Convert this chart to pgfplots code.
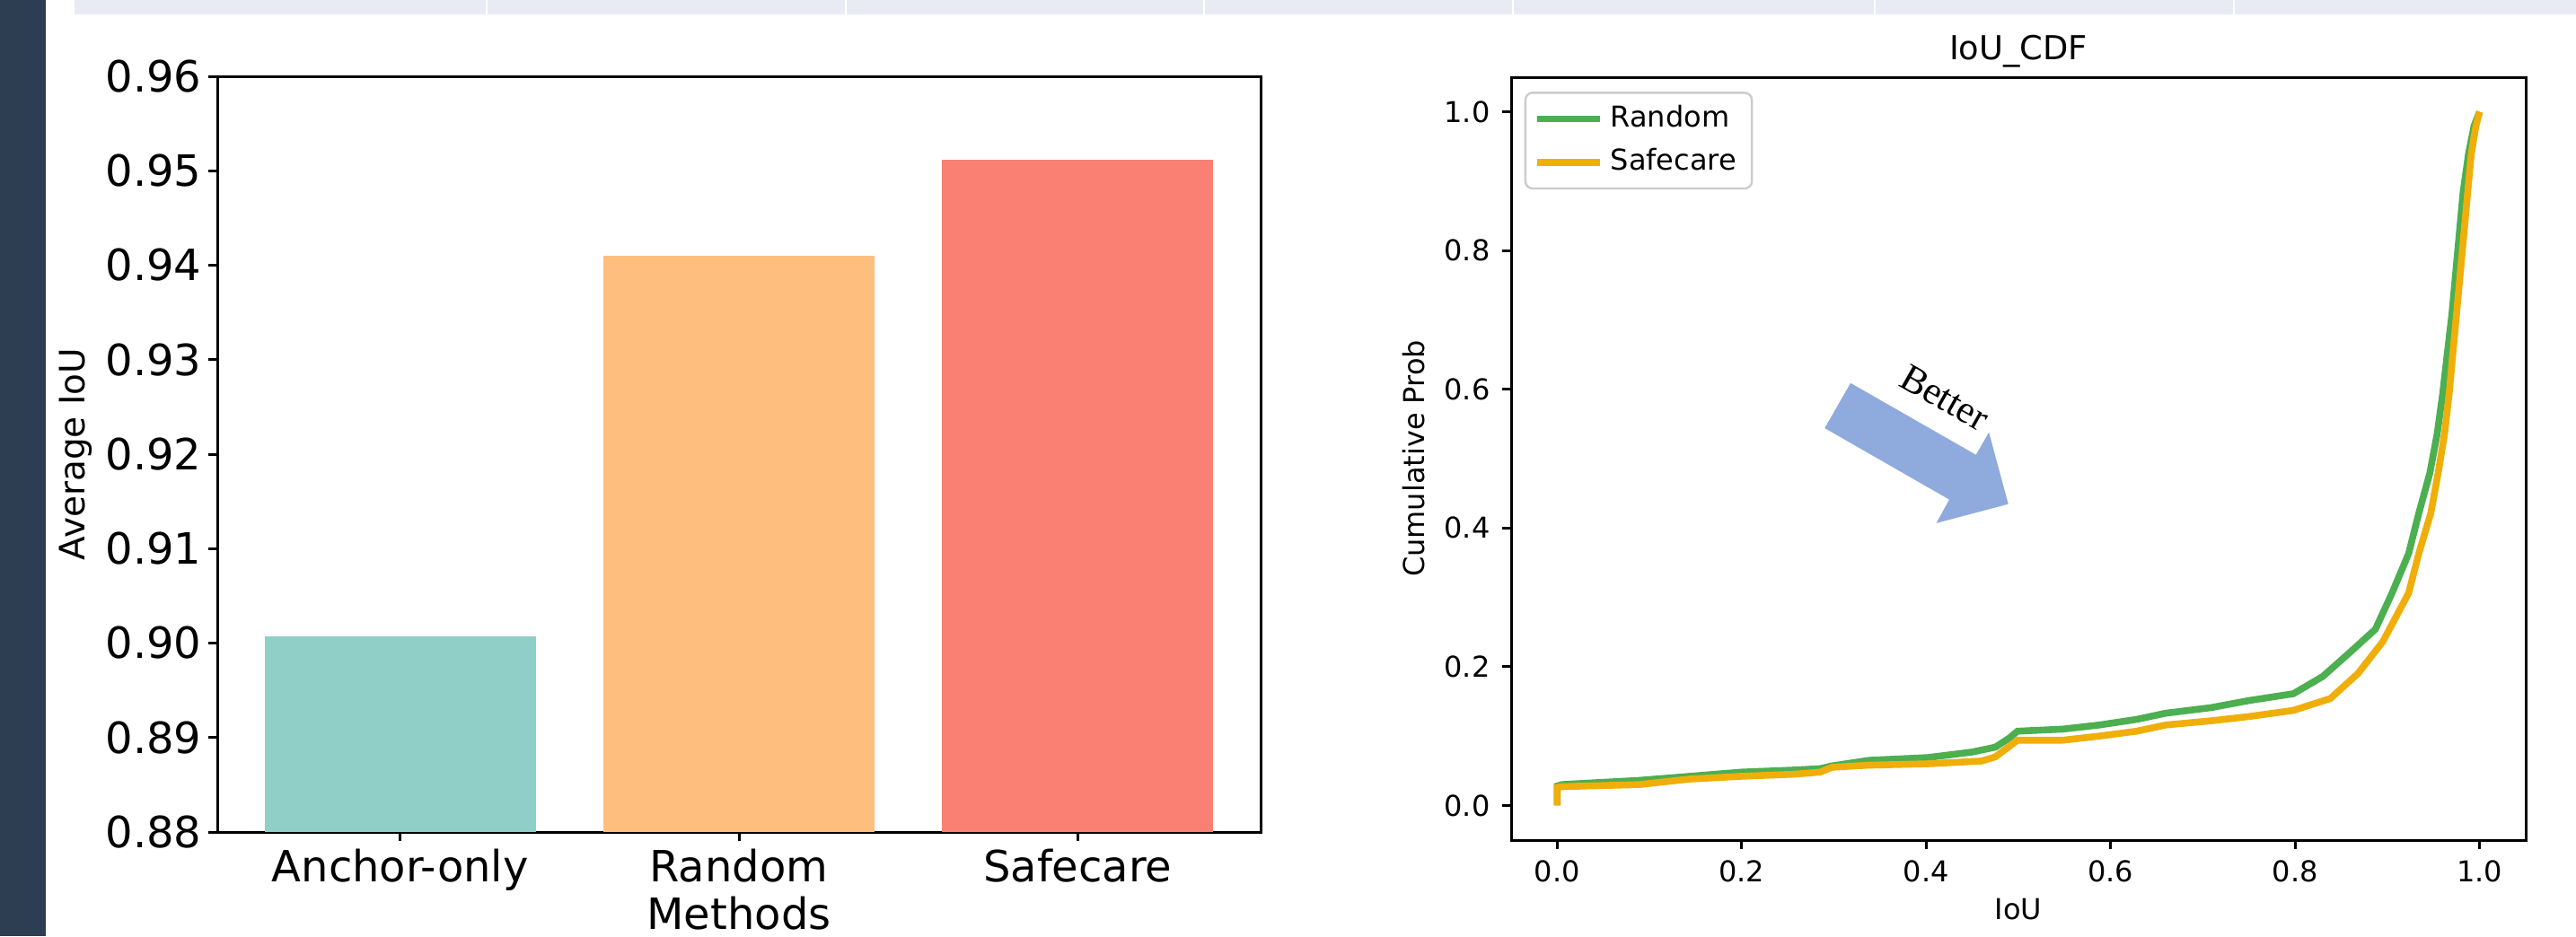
\documentclass[border=0pt]{standalone}
\usepackage{pgfplots}
\usepackage{pgfplotstable}
\pgfplotsset{compat=1.18}
\usepackage{fontspec}
\setmainfont{DejaVu Sans}
\newfontfamily\betterfont{Liberation Serif}
\definecolor{navybar}{HTML}{2D3D52}
\definecolor{stripc}{HTML}{E8EBF4}
\definecolor{barA}{HTML}{90CEC8}
\definecolor{barB}{HTML}{FEBE7E}
\definecolor{barC}{HTML}{F98072}
\definecolor{cRandom}{HTML}{4CAF50}
\definecolor{cSafe}{HTML}{F0AE0A}
\definecolor{arrowc}{HTML}{8FAADC}
\definecolor{legframe}{HTML}{CCCCCC}

\pgfplotstableread{
x y
0.000 0.000
0.000 0.028
0.005 0.030
0.031 0.032
0.088 0.036
0.144 0.042
0.200 0.048
0.257 0.051
0.285 0.053
0.298 0.057
0.338 0.065
0.402 0.069
0.450 0.077
0.475 0.084
0.490 0.097
0.499 0.107
0.548 0.110
0.588 0.116
0.628 0.124
0.660 0.133
0.709 0.141
0.749 0.151
0.798 0.161
0.830 0.186
0.858 0.219
0.887 0.254
0.905 0.306
0.923 0.363
0.934 0.421
0.946 0.479
0.954 0.536
0.960 0.594
0.965 0.652
0.970 0.709
0.974 0.767
0.978 0.825
0.982 0.883
0.988 0.940
0.994 0.980
1.000 1.000
}\randomtab

\pgfplotstableread{
x y
0.000 0.000
0.000 0.026
0.005 0.027
0.031 0.028
0.088 0.030
0.144 0.038
0.200 0.042
0.257 0.045
0.285 0.048
0.298 0.055
0.338 0.058
0.402 0.060
0.460 0.064
0.475 0.070
0.499 0.094
0.548 0.094
0.588 0.100
0.628 0.107
0.660 0.116
0.709 0.122
0.749 0.128
0.798 0.137
0.838 0.154
0.868 0.190
0.895 0.236
0.923 0.306
0.934 0.363
0.947 0.421
0.955 0.479
0.962 0.536
0.967 0.594
0.971 0.652
0.975 0.709
0.979 0.767
0.983 0.825
0.987 0.883
0.991 0.940
0.996 0.980
1.000 1.000
}\safetab

\pgfplotsset{
  myax/.style={
    scale only axis, anchor=south west,
    axis line style={line width=0.75pt},
    tick align=outside, tick pos=left,
    major tick length=2.5pt,
    major tick style={line width=0.75pt, black},
    scaled ticks=false,
    /pgf/number format/assume math mode=true,
    tick label style={inner sep=0pt},
  }
}

\begin{document}
\begin{tikzpicture}[x=1pt,y=1pt]
\useasboundingbox (0,0) rectangle (717.25,260.75);
\fill[white] (0,0) rectangle (717.25,260.75);
\fill[navybar] (0,0) rectangle (12.75,260.75);
\fill[stripc] (20.75,256.75) rectangle (717.25,260.75);
\foreach \s in {542,942,1341,1685,2088,2488} {
  \fill[white] ({\s*0.25-0.3},256.75) rectangle ({\s*0.25+0.3},260.75);
}

\begin{axis}[myax, at={(60.5pt,29pt)}, width=290.5pt, height=210.5pt,
  xmin=-0.54, xmax=2.54, ymin=0.88, ymax=0.96,
  xtick={0,1,2}, xticklabels={Anchor-only,Random,Safecare},
  ytick={0.88,0.89,0.90,0.91,0.92,0.93,0.94,0.95,0.96},
  yticklabel style={/pgf/number format/fixed,/pgf/number format/fixed zerofill,/pgf/number format/precision=2, xshift=-1.7pt},
  xticklabel style={yshift=-2pt},
  tick label style={font=\fontsize{12}{14.4}\selectfont},
  xlabel={Methods}, ylabel={Average IoU},
  xlabel style={font=\fontsize{12}{14.4}\selectfont, at={(axis description cs:0.5,-0.108)}, anchor=center, inner sep=0pt},
  ylabel style={font=\fontsize{9.75}{11.7}\selectfont, at={(axis description cs:-0.1355,0.5)}, anchor=center},
]
\addplot[ybar, bar width=0.8, bar shift=0pt, fill=barA, draw=none] coordinates {(0,0.9007)};
\addplot[ybar, bar width=0.8, bar shift=0pt, fill=barB, draw=none] coordinates {(1,0.9410)};
\addplot[ybar, bar width=0.8, bar shift=0pt, fill=barC, draw=none] coordinates {(2,0.9512)};
\end{axis}

\begin{axis}[myax, at={(420.75pt,26.75pt)}, width=282.5pt, height=212.5pt,
  xmin=-0.05, xmax=1.05, ymin=-0.05, ymax=1.05,
  xtick={0,0.2,0.4,0.6,0.8,1.0}, ytick={0,0.2,0.4,0.6,0.8,1.0},
  xticklabel style={/pgf/number format/fixed,/pgf/number format/fixed zerofill,/pgf/number format/precision=1, yshift=-3pt},
  yticklabel style={/pgf/number format/fixed,/pgf/number format/fixed zerofill,/pgf/number format/precision=1, xshift=-3.2pt},
  tick label style={font=\fontsize{8}{9.6}\selectfont},
  xlabel={IoU}, ylabel={Cumulative Prob},
  xlabel style={font=\fontsize{8}{9.6}\selectfont, at={(axis description cs:0.5,-0.0912)}, anchor=center},
  ylabel style={font=\fontsize{8}{9.6}\selectfont, at={(axis description cs:-0.0956,0.5)}, anchor=center},
  title={IoU\_CDF},
  title style={font=\fontsize{9.2}{11}\selectfont, at={(axis description cs:0.5,1)}, anchor=base, yshift=-1.2pt, inner sep=0pt},
  legend style={at={(0.013,0.981)}, anchor=north west, draw=legframe, rounded corners=2pt, line width=0.6pt,
    font=\fontsize{8}{9.6}\selectfont, inner xsep=2.3pt, inner ysep=1.5pt, row sep=0.5pt},
  legend cell align=left,
  legend image code/.code={\draw[#1] (0pt,0pt) -- (17.5pt,0pt);},
]
\addplot[cRandom, line width=1.9pt] table {\randomtab};
\addplot[cSafe, line width=1.9pt] table {\safetab};
\legend{Random,Safecare}
\fill[arrowc] (axis cs:0.318,0.609) -- (axis cs:0.454,0.5055) -- (axis cs:0.468,0.538) -- (axis cs:0.489,0.4345) -- (axis cs:0.411,0.407) -- (axis cs:0.425,0.441) -- (axis cs:0.290,0.544) -- cycle;
\node[rotate=-29.5, font=\betterfont\fontsize{10.8}{13}\selectfont, inner sep=0pt] at (axis cs:0.420,0.588) {Better};
\end{axis}
\end{tikzpicture}
\end{document}
